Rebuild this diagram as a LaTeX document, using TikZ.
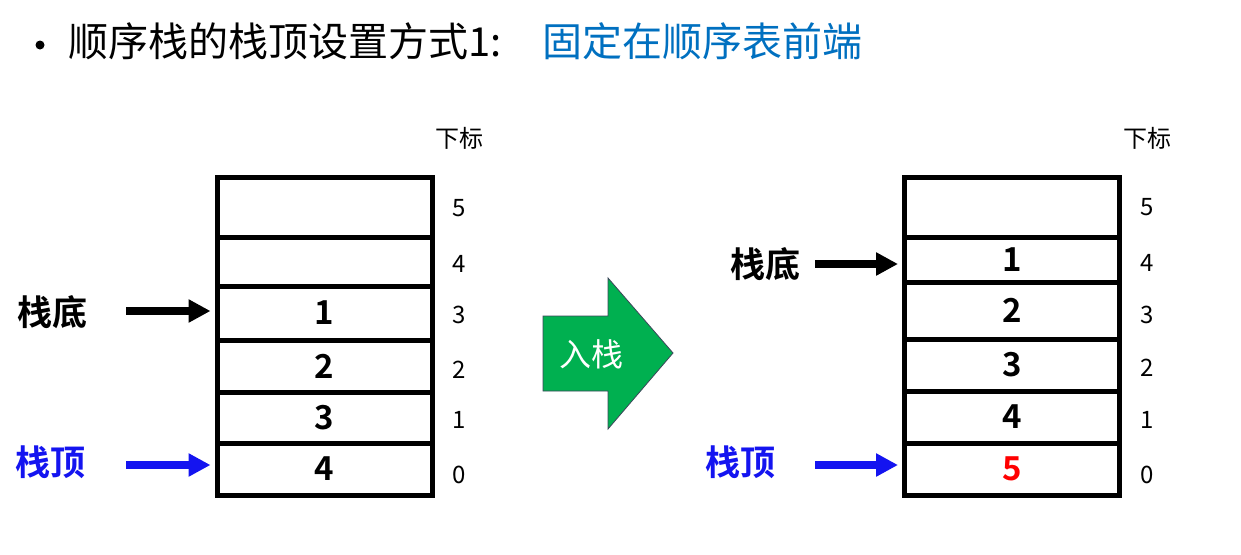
\documentclass[tikz,border=0pt]{standalone}
\usepackage{fontspec}
\setmainfont{Noto Sans CJK SC}[BoldFont={Noto Sans CJK SC Bold}]
\usetikzlibrary{arrows.meta}
\definecolor{titleblue}{RGB}{0,112,192}
\definecolor{ptrblue}{RGB}{20,20,240}
\definecolor{pushgreen}{RGB}{0,176,80}
\definecolor{pushedge}{RGB}{60,70,90}
\tikzset{
  cell/.style={draw, line width=5pt, minimum width=215pt, inner sep=0pt,
    font=\fontsize{33}{36}\selectfont\bfseries},
  idx/.style={font=\fontsize{24}{26}\selectfont, inner sep=0pt},
  ptrlabel/.style={font=\fontsize{35}{40}\selectfont\bfseries, inner sep=0pt},
  ptr/.style={line width=8pt, -{Triangle[length=22pt,width=22pt]}, shorten >=4pt}
}
\begin{document}
\begin{tikzpicture}[x=1pt,y=-1pt]
\useasboundingbox[fill=white] (0,0) rectangle (1241,554);

% heading
\fill (40,45) circle (4.5pt);
\node[anchor=base west, inner sep=0pt, font=\fontsize{40}{44}\selectfont] (title) at (68,56) {顺序栈的栈顶设置方式1:};
\node[anchor=base west, inner sep=0pt, font=\fontsize{40}{44}\selectfont, text=titleblue] (subtitle) at (542,56) {固定在顺序表前端};

% ---- stack before the push ----
\node[cell, minimum height=60pt] (L5) at (324.5,207) {};
\node[cell, minimum height=49pt] (L4) at (324.5,261.5) {};
\node[cell, minimum height=54pt] (L3) at (324.5,313) {1};
\node[cell, minimum height=52pt] (L2) at (324.5,366) {2};
\node[cell, minimum height=51pt] (L1) at (324.5,417.5) {3};
\node[cell, minimum height=52pt] (L0) at (324.5,469) {4};

\node[idx] (Lhead) at (459,138) {下标};
\node[idx] (Li5) at (459,208) {5};
\node[idx] (Li4) at (459,264) {4};
\node[idx] (Li3) at (459,315) {3};
\node[idx] (Li2) at (459,370) {2};
\node[idx] (Li1) at (459,420) {1};
\node[idx] (Li0) at (459,475) {0};

\node[ptrlabel] (Lbot) at (52,312) {栈底};
\node[ptrlabel, text=ptrblue] (Ltop) at (51,462) {栈顶};
\coordinate (Lbotstart) at (126,311);
\coordinate (Ltopstart) at (126,465);
\draw[ptr] (Lbotstart) -- (Lbotstart -| L3.west);
\draw[ptr, ptrblue] (Ltopstart) -- (Ltopstart -| L0.west);

% ---- push arrow ----
\draw[fill=pushgreen, draw=pushedge, line width=0.8pt]
  (543,316) -- (608,316) -- (608,278) -- (673,353) -- (608,429) -- (608,391) -- (543,391) -- cycle;
\node[font=\fontsize{32}{36}\selectfont, text=white, inner sep=0pt] (push) at (591,354) {入栈};

% ---- stack after the push ----
\node[cell, minimum height=60pt] (R5) at (1012,207) {};
\node[cell, minimum height=45pt] (R4) at (1012,259.5) {1};
\node[cell, minimum height=57pt] (R3) at (1012,310.5) {2};
\node[cell, minimum height=52pt] (R2) at (1012,365) {3};
\node[cell, minimum height=52pt] (R1) at (1012,417) {4};
\node[cell, minimum height=52pt, text=red] (R0) at (1012,469) {5};

\node[idx] (Rhead) at (1147,138) {下标};
\node[idx] (Ri5) at (1147,207) {5};
\node[idx] (Ri4) at (1147,263) {4};
\node[idx] (Ri3) at (1147,315) {3};
\node[idx] (Ri2) at (1147,368) {2};
\node[idx] (Ri1) at (1147,420) {1};
\node[idx] (Ri0) at (1147,475) {0};

\node[ptrlabel] (Rbot) at (765,264) {栈底};
\node[ptrlabel, text=ptrblue] (Rtop) at (740,462) {栈顶};
\coordinate (Rbotstart) at (815,264);
\coordinate (Rtopstart) at (815,465);
\draw[ptr] (Rbotstart) -- (Rbotstart -| R4.west);
\draw[ptr, ptrblue] (Rtopstart) -- (Rtopstart -| R0.west);
\end{tikzpicture}
\end{document}
